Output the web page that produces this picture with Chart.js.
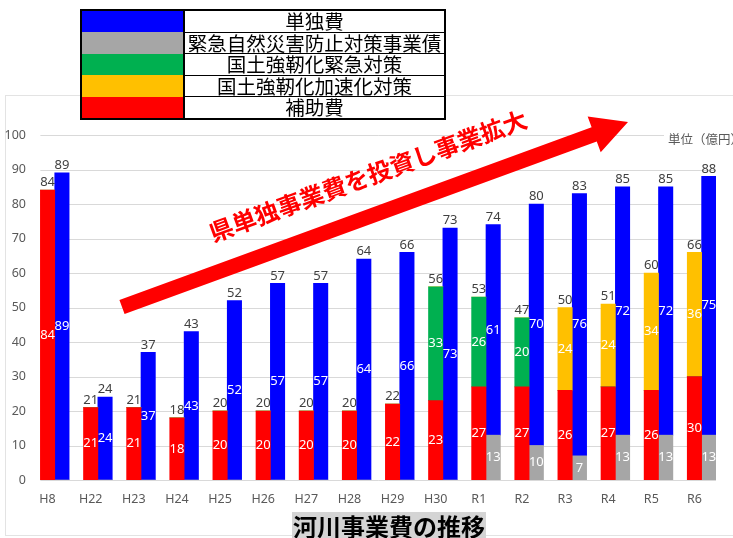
<!DOCTYPE html>
<html>
<head>
<meta charset="utf-8">
<script src="https://cdn.jsdelivr.net/npm/chart.js@4"></script>
<style>
  body { margin: 0; background: #fff; }
  #wrap { position: relative; width: 733px; height: 538px; overflow: hidden; }
  #legend {
    position: absolute; left: 80px; top: 9px; z-index: 2;
    border-collapse: collapse; border: 2px solid #000; background: #fff;
    font-family: "Noto Sans CJK JP", sans-serif; font-size: 19.5px; color: #000;
  }
  #legend td { height: 20.5px; padding: 0; line-height: 20px; }
  #legend td.sw { width: 101px; }
  #legend td.tx { width: 259px; text-align: center; border-left: 2px solid #000; border-bottom: 1.5px solid #000; white-space: nowrap; }
</style>
</head>
<body>
<div id="wrap">
  <table id="legend"></table>
  <canvas id="c" width="733" height="538"></canvas>
</div>
<script>
// 年度
const categories = ['H8', 'H22', 'H23', 'H24', 'H25', 'H26', 'H27', 'H28', 'H29', 'H30', 'R1', 'R2', 'R3', 'R4', 'R5', 'R6'];

// 左の積み上げ（補助費＋国土強靭化）
const hojo      = [84, 21, 21, 18, 20, 20, 20, 20, 22, 23, 27, 27, 26, 27, 26, 30];
const kinkyu    = [0, 0, 0, 0, 0, 0, 0, 0, 0, 33, 26, 20, 0, 0, 0, 0];
const kasokuka  = [0, 0, 0, 0, 0, 0, 0, 0, 0, 0, 0, 0, 24, 24, 34, 36];

// 右の積み上げ（事業債＋単独費）
const jigyosai  = [0, 0, 0, 0, 0, 0, 0, 0, 0, 0, 13, 10, 7, 13, 13, 13];
const tandoku   = [89, 24, 37, 43, 52, 57, 57, 64, 66, 73, 61, 70, 76, 72, 72, 75];

const yMin = 0, yMax = 100, yStep = 10;

const legendRows = [
  ['単独費', '#0000ff'],
  ['緊急自然災害防止対策事業債', '#a6a6a6'],
  ['国土強靭化緊急対策', '#00b050'],
  ['国土強靭化加速化対策', '#ffc000'],
  ['補助費', '#ff0000']
];

const legendEl = document.getElementById('legend');
legendRows.forEach(function (r) {
  var tr = document.createElement('tr');
  tr.innerHTML = '<td class="sw" style="background:' + r[1] + '"></td><td class="tx">' + r[0] + '</td>';
  legendEl.appendChild(tr);
});

const numFont = '13px "Noto Sans", sans-serif';
const jpFont = '"Noto Sans CJK JP", sans-serif';

// gridlines only across the bars, like the original
const gridPlugin = {
  id: 'grid',
  beforeDatasetsDraw: function (chart) {
    var ctx = chart.ctx, y = chart.scales.y;
    var first = chart.getDatasetMeta(1).data[0];
    var left = first.x - first.width / 2;
    var right = chart.chartArea.right;
    ctx.save();
    ctx.strokeStyle = '#d9d9d9';
    ctx.lineWidth = 1;
    y.ticks.forEach(function (t) {
      var py = Math.round(y.getPixelForValue(t.value)) + 0.5;
      ctx.beginPath();
      ctx.moveTo(left, py);
      ctx.lineTo(right, py);
      ctx.stroke();
    });
    ctx.restore();
  }
};

// value labels inside the segments and totals above each stack
const labelPlugin = {
  id: 'labels',
  afterDatasetsDraw: function (chart) {
    var ctx = chart.ctx, y = chart.scales.y;
    ctx.save();
    ctx.font = numFont;
    ctx.textAlign = 'center';
    var totals = {};
    chart.data.datasets.forEach(function (ds, i) {
      if (!ds.stack || ds.stack === 'pad') return;
      var meta = chart.getDatasetMeta(i);
      meta.data.forEach(function (el, j) {
        var v = ds.data[j];
        var key = ds.stack + '_' + j;
        if (!totals[key]) totals[key] = { sum: 0, x: el.x };
        totals[key].sum += v || 0;
        if (!v) return;
        ctx.fillStyle = '#ffffff';
        ctx.textBaseline = 'middle';
        ctx.fillText(v, el.x, (el.y + el.base) / 2);
      });
    });
    ctx.fillStyle = '#404040';
    ctx.textBaseline = 'bottom';
    Object.keys(totals).forEach(function (k) {
      var t = totals[k];
      if (!t.sum) return;
      ctx.fillText(t.sum, t.x, y.getPixelForValue(t.sum) - 1);
    });
    ctx.restore();
  }
};

// picture frame, arrow, caption, unit and title
const decoPlugin = {
  id: 'deco',
  beforeDraw: function (chart) {
    var ctx = chart.ctx;
    ctx.save();
    ctx.fillStyle = '#fff';
    ctx.fillRect(0, 0, chart.width, chart.height);
    ctx.strokeStyle = '#e3e3e3';
    ctx.lineWidth = 1;
    ctx.strokeRect(5.5, 95.5, 760, 440);
    ctx.restore();
  },
  afterDraw: function (chart) {
    var ctx = chart.ctx;
    ctx.save();

    // arrow
    var sx = 122, sy = 307, tx = 628, ty = 122;
    var ang = Math.atan2(ty - sy, tx - sx);
    var len = Math.hypot(tx - sx, ty - sy);
    ctx.translate(sx, sy);
    ctx.rotate(ang);
    ctx.fillStyle = '#ff0000';
    ctx.beginPath();
    ctx.moveTo(0, -7.5);
    ctx.lineTo(len - 36, -7.5);
    ctx.lineTo(len - 36, -19);
    ctx.lineTo(len, 0);
    ctx.lineTo(len - 36, 19);
    ctx.lineTo(len - 36, 7.5);
    ctx.lineTo(0, 7.5);
    ctx.closePath();
    ctx.fill();
    ctx.setTransform(1, 0, 0, 1, 0, 0);

    // caption along the arrow
    ctx.translate(368, 176);
    ctx.rotate(ang);
    ctx.font = 'bold 24px ' + jpFont;
    ctx.textAlign = 'center';
    ctx.textBaseline = 'middle';
    ctx.fillText('県単独事業費を投資し事業拡大', 0, 0);
    ctx.setTransform(1, 0, 0, 1, 0, 0);

    // unit
    ctx.font = '12.5px ' + jpFont;
    ctx.fillStyle = '#fff';
    ctx.fillRect(664, 130, 80, 18);
    ctx.fillStyle = '#595959';
    ctx.textAlign = 'left';
    ctx.textBaseline = 'middle';
    ctx.fillText('単位（億円）', 668, 139);

    // title
    ctx.fillStyle = '#d4d4d4';
    ctx.fillRect(292, 512, 194, 30);
    ctx.fillStyle = '#000';
    ctx.font = 'bold 24px ' + jpFont;
    ctx.textAlign = 'center';
    ctx.textBaseline = 'middle';
    ctx.fillText('河川事業費の推移', 389, 527);
    ctx.restore();
  }
};

new Chart(document.getElementById('c'), {
  type: 'bar',
  data: {
    labels: categories,
    datasets: [
      { label: 'pad', data: categories.map(function () { return null; }), stack: 'pad', backgroundColor: 'rgba(0,0,0,0)' },
      { label: '補助費', data: hojo, stack: 'a', backgroundColor: '#ff0000' },
      { label: '国土強靭化緊急対策', data: kinkyu, stack: 'a', backgroundColor: '#00b050' },
      { label: '国土強靭化加速化対策', data: kasokuka, stack: 'a', backgroundColor: '#ffc000' },
      { label: '緊急自然災害防止対策事業債', data: jigyosai, stack: 'b', backgroundColor: '#a6a6a6' },
      { label: '単独費', data: tandoku, stack: 'b', backgroundColor: '#0000ff' }
    ]
  },
  options: {
    responsive: false,
    animation: false,
    datasets: { bar: { categoryPercentage: 1.0, barPercentage: 1.0, borderWidth: 0 } },
    layout: { padding: { left: 0, right: 17, top: 135, bottom: 0 } },
    plugins: { legend: { display: false }, tooltip: { enabled: false } },
    scales: {
      x: {
        stacked: true,
        grid: { display: false, drawTicks: false },
        border: { display: false },
        ticks: { color: '#595959', font: { family: 'Noto Sans', size: 12.5 }, padding: 12, autoSkip: false, maxRotation: 0 },
        afterFit: function (s) { s.height = 58; }
      },
      y: {
        stacked: true,
        min: yMin,
        max: yMax,
        grid: { display: false, drawTicks: false },
        border: { display: false },
        ticks: { stepSize: yStep, color: '#595959', font: { family: 'Noto Sans', size: 12.5 }, padding: 0 },
        afterFit: function (s) { s.width = 26; }
      }
    }
  },
  plugins: [decoPlugin, gridPlugin, labelPlugin]
});
</script>
</body>
</html>
